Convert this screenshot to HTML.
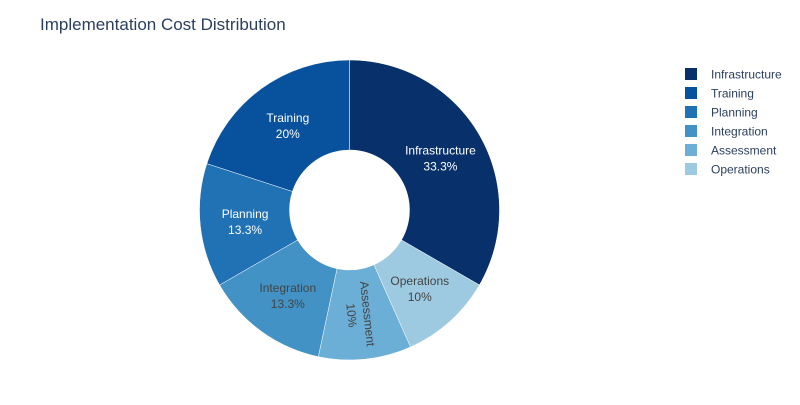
<!DOCTYPE html>
<html><head><meta charset="utf-8"><style>
body{margin:0;background:#fff;font-family:"Liberation Sans",Arial,sans-serif}
</style></head><body>
<svg width="800" height="400" xmlns="http://www.w3.org/2000/svg">
<rect width="800" height="400" fill="#fff"/>
<text x="40" y="30" font-size="17" fill="#2a3f5f">Implementation Cost Distribution</text>
<g id="pie"></g>
<g id="legend"></g>
</svg>
<script>
const categories=["Infrastructure","Operations","Assessment","Integration","Planning","Training"];
const values=[10,3,3,4,4,6];
const colors=["#08306b","#9ecae1","#6baed6","#4292c6","#2171b5","#08519c"];
const legendOrder=["Infrastructure","Training","Planning","Integration","Assessment","Operations"];
const textColors=["#fff","#444","#444","#444","#fff","#fff"];
const NS="http://www.w3.org/2000/svg";
const cx=349.5,cy=210,R=150,r=60;
const total=values.reduce((a,b)=>a+b,0);
const pie=document.getElementById('pie');
function pt(a,rad){return [cx+rad*Math.sin(a),cy-rad*Math.cos(a)];}
let acc=0;
values.forEach((v,i)=>{
  const a0=acc/total*2*Math.PI; acc+=v; const a1=acc/total*2*Math.PI;
  const large=(a1-a0)>Math.PI?1:0;
  const p0=pt(a0,R),p1=pt(a1,R),q1=pt(a1,r),q0=pt(a0,r);
  const path=document.createElementNS(NS,'path');
  path.setAttribute('d',`M${p0}A${R},${R} 0 ${large} 1 ${p1}L${q1}A${r},${r} 0 ${large} 0 ${q0}Z`);
  path.setAttribute('fill',colors[i]);path.setAttribute('stroke','#fff');path.setAttribute('stroke-width','0.5');
  
  
  pie.appendChild(path);
  const am=(a0+a1)/2; const [lx,ly]=pt(am,105);
  const pct=Math.round(v/total*1000)/10+'%';
  const t=document.createElementNS(NS,'text');
  t.setAttribute('font-size','12');t.setAttribute('fill',textColors[i]);t.setAttribute('text-anchor','middle');
  
  
  let rot=0;
  if(v/total<0.105 && Math.abs(Math.cos(am))>0.9){rot=(am*180/Math.PI)-90;}
  t.setAttribute('transform',`translate(${lx},${ly}) rotate(${rot})`);
  const s1=document.createElementNS(NS,'tspan');s1.setAttribute('x',0);s1.setAttribute('y',-3);s1.textContent=categories[i];
  const s2=document.createElementNS(NS,'tspan');s2.setAttribute('x',0);s2.setAttribute('y',13);s2.textContent=pct;
  t.appendChild(s1);t.appendChild(s2);pie.appendChild(t);
});
const lg=document.getElementById('legend');
legendOrder.forEach((c,i)=>{
  const y=74+i*19;
  const g=document.createElementNS(NS,'g');
  
  
  const rc=document.createElementNS(NS,'rect');
  rc.setAttribute('x',685);rc.setAttribute('y',y-6);rc.setAttribute('width',12);rc.setAttribute('height',12);
  rc.setAttribute('fill',colors[categories.indexOf(c)]);
  const tx=document.createElementNS(NS,'text');
  tx.setAttribute('x',711);tx.setAttribute('y',y+4.5);tx.setAttribute('font-size','12');tx.setAttribute('fill','#2a3f5f');
  tx.textContent=c;
  g.appendChild(rc);g.appendChild(tx);lg.appendChild(g);
});
</script>
</body></html>
